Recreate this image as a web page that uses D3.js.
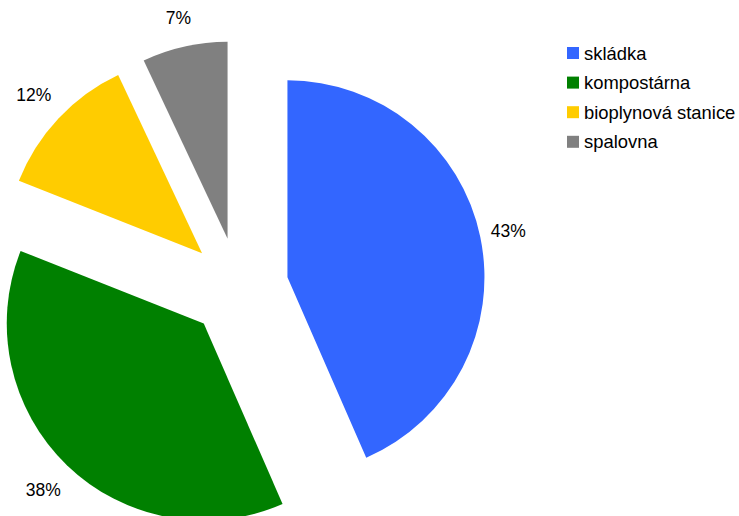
<!DOCTYPE html>
<html><head><meta charset="utf-8">
<script src="https://cdn.jsdelivr.net/npm/d3@7/dist/d3.min.js"></script>
<style>body{margin:0;background:#fff}svg{display:block}</style>
</head><body><svg id="c" width="739" height="516"></svg>
<script>
const categories = ["skládka", "kompostárna", "bioplynová stanice", "spalovna"];
const values = [43.45, 37.55, 12.0, 7.0];
const colors = ["#3366ff", "#008000", "#ffcc00", "#808080"];

const svg = d3.select("#c");
const cx = 238.5, cy = 287.5, R = 197, explode = 50, labelR = 272;
const font = "'Liberation Sans', Arial, sans-serif";

const pie = d3.pie().sort(null).value(d => d.v).startAngle(0).endAngle(2 * Math.PI);
const data = pie(categories.map((c, i) => ({c, v: values[i], col: colors[i]})));
const arc = d3.arc().innerRadius(0).outerRadius(R);
const total = d3.sum(values);
const fmt = v => Math.round(v / total * 100) + "%";

const g = svg.append("g").attr("transform", `translate(${cx},${cy})`);
data.forEach(d => {
  const a = (d.startAngle + d.endAngle) / 2;
  const dx = Math.sin(a), dy = -Math.cos(a);
  g.append("path")
    .attr("d", arc(d))
    .attr("fill", d.data.col)
    .attr("transform", `translate(${dx * explode},${dy * explode})`);
  const lr = labelR + 9 * Math.abs(Math.sin(2 * a));
  g.append("text")
    .attr("x", dx * lr).attr("y", dy * lr)
    .attr("text-anchor", "middle").attr("dominant-baseline", "central")
    .attr("font-family", font).attr("font-size", 17.5).attr("fill", "#000")
    .text(fmt(d.data.v));
});

const leg = svg.append("g");
categories.forEach((c, i) => {
  const y = 53 + i * 29.6;
  leg.append("rect").attr("x", 567).attr("y", y - 6).attr("width", 12).attr("height", 12).attr("fill", colors[i]);
  leg.append("text").attr("x", 584).attr("y", y).attr("dominant-baseline", "central")
    .attr("font-family", font).attr("font-size", 18.4).attr("fill", "#000").text(c);
});
</script></body></html>
